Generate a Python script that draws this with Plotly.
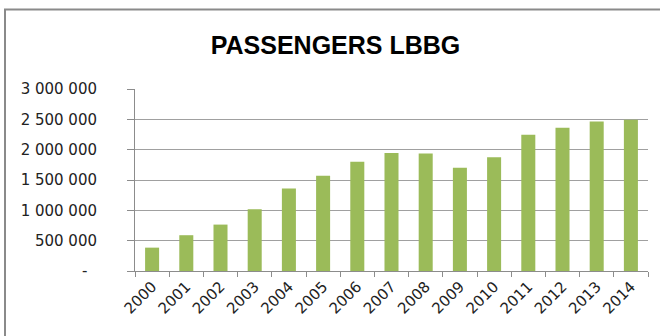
import plotly.graph_objects as go

years = ["2000", "2001", "2002", "2003", "2004", "2005", "2006", "2007",
         "2008", "2009", "2010", "2011", "2012", "2013", "2014"]
passengers = [385000, 590000, 765000, 1018000, 1358000, 1568000, 1800000, 1947000,
              1936000, 1700000, 1876000, 2244000, 2360000, 2465000, 2495000]
ytick_vals = [0, 500000, 1000000, 1500000, 2000000, 2500000, 3000000]
ytick_text = ["-\u00a0\u00a0", "500 000", "1 000 000", "1 500 000",
              "2 000 000", "2 500 000", "3 000 000"]
title_text = "PASSENGERS LBBG"

W, H = 660, 336
L, R, T, B = 135, 12, 89, 65
pw, ph = W - L - R, H - T - B

fig = go.Figure()
fig.add_trace(go.Bar(x=years, y=passengers, marker=dict(color="#9BBB59", line=dict(width=0))))

axis_grey = "#8c8c8c"
fig.update_layout(
    width=W, height=H,
    margin=dict(l=L, r=R, t=T, b=B),
    paper_bgcolor="white", plot_bgcolor="white",
    bargap=0.59,
    showlegend=False,
    title=dict(text=title_text, x=335.5 / W, xanchor="center", xref="container",
               y=1 - 45.5 / H, yanchor="middle", yref="container",
               font=dict(family="Liberation Sans", size=25, color="black", weight="bold")),
    font=dict(family="DejaVu Sans", size=15, color="#222222"),
    xaxis=dict(type="category", tickangle=-45, ticks="outside", ticklen=5,
               tickcolor=axis_grey, tickson="boundaries", showline=True, linecolor=axis_grey,
               linewidth=1, showgrid=False, tickfont=dict(size=15)),
    yaxis=dict(range=[0, 3000000], tickvals=ytick_vals, ticktext=ytick_text,
               ticks="outside", ticklen=7, tickcolor=axis_grey, showline=True,
               linecolor=axis_grey, linewidth=1, gridcolor="#a0a0a0", gridwidth=1,
               zeroline=False, ticklabelstandoff=27, tickfont=dict(size=15)),
)

# outer chart frame (top and left edges visible)
x0 = (5 - L) / pw
y1 = (H - B - 9.5) / ph
fig.add_shape(type="rect", xref="paper", yref="paper", x0=x0, x1=1.2, y0=-0.8, y1=y1,
              line=dict(color="#8a8a8a", width=2), layer="below")

fig.write_html("out.html")
